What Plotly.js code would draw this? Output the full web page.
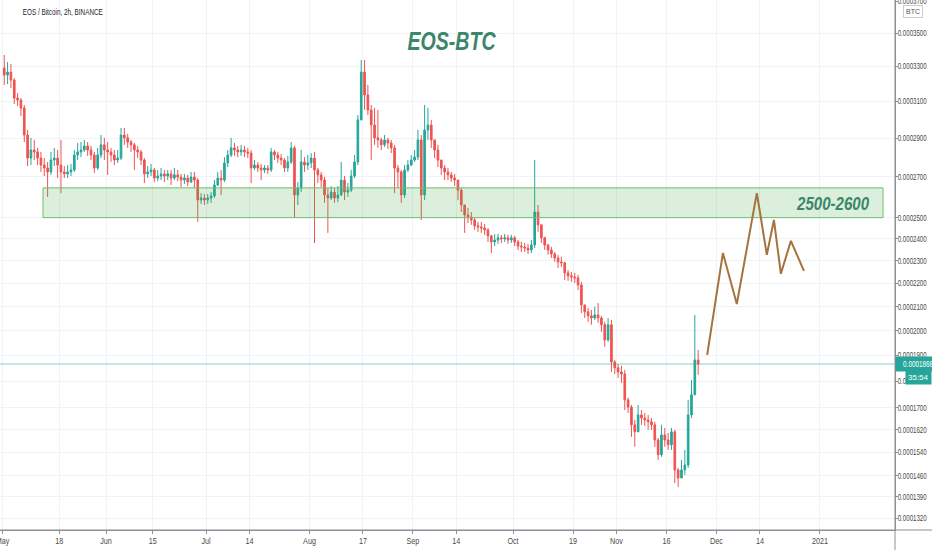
<!DOCTYPE html>
<html>
<head>
<meta charset="utf-8">
<script src="https://cdn.plot.ly/plotly-3.0.1.min.js"></script>
<style>
html,body{margin:0;padding:0;background:#fff;}
#chart{width:932px;height:550px;}
</style>
</head>
<body>
<div id="chart"></div>
<script>
// ---------- DATA (prices in satoshi, 1 sat = 0.00000001 BTC) ----------
const firstDay = '2020-05-01';
const firstOpen = 32910;
const close = [
32500,32670,32210,31190,31080,30640,29170,27960,28380,28280,
27960,27600,27450,27250,27860,27960,27600,27250,27150,27250,
27350,28120,28280,28380,28590,28380,28120,27450,28120,28650,
28380,28280,28120,27860,27960,29170,29020,28800,28650,28380,
28280,27860,27150,27250,27350,26940,27040,27150,27040,27150,
26940,27100,26990,26840,26940,26740,26990,26840,25850,25950,
25850,25950,26050,26590,26940,26840,27710,28120,28490,28380,
28280,28380,28280,28220,27450,27600,27450,27350,27450,27350,
28280,28120,27960,27860,27450,27760,28490,26100,26440,27760,
27600,27710,27960,27350,27100,26840,26100,25950,26240,25950,
26100,26840,26240,26340,27040,27760,29980,32670,31360,30530,
29710,29020,28910,28650,28910,28750,28490,27450,27250,26100,
27350,27600,27860,28010,28910,26100,29440,29710,28910,28380,
27860,27450,27250,27100,26940,26840,26340,25610,25130,25030,
24890,24610,24560,24510,24420,24140,23860,23950,24050,24000,
24050,23950,24050,23860,23670,23630,23580,23490,23720,25270,
24660,24050,23720,23490,23310,23130,22950,22910,22460,22330,
22280,22240,21930,21070,20780,20610,20520,20650,20520,20240,
19620,20240,18740,18510,18350,18270,17290,17020,16370,16120,
16730,16620,16550,16480,16370,15830,15310,16010,15830,15660,
16120,14790,14520,14790,14960,16730,17480,18820,18660];
const high = [
33680,33260,33140,32330,31470,31190,30800,29440,29020,28910,
28490,28280,27960,27760,28280,28490,28380,28910,27550,27600,
27660,28380,28750,28800,28910,28800,28590,28280,28490,29170,
29020,28800,28490,28380,28380,29550,29550,29230,28910,28750,
28590,28380,27960,27550,27660,27450,27350,27450,27350,27350,
27350,27450,27350,27150,27150,27100,27250,27250,26940,26190,
26140,26140,26240,26840,27250,27350,28010,28380,29020,28750,
28590,28650,28590,28490,28380,27860,27760,27660,27600,27600,
28490,28380,28280,28170,27960,28070,28800,28600,26740,28380,
28010,28120,28220,28280,27450,27250,27000,26440,26540,26440,
26540,27760,27040,26690,27350,28120,30250,33380,33380,31930,
30800,30640,30530,29020,29170,29020,28910,28650,27600,27350,
27600,27860,28120,28380,29440,29170,30800,30640,29980,28910,
28650,27860,27600,27450,27250,27150,26840,26440,25610,25470,
25270,24990,24800,24800,24700,24510,24190,24230,24230,24190,
24230,24190,24190,24140,23950,23860,23810,23770,23950,27860,
25610,24660,24100,23770,23630,23400,23270,23180,22950,22590,
22500,22460,22370,22060,21070,20940,20860,20990,21150,20610,
20360,20520,20440,18820,18660,18590,18430,17370,17100,16550,
17100,16910,16800,16730,16620,16480,15900,16370,16260,16080,
16260,16190,14860,15130,15480,17290,18040,20650,19220];
const low = [
31930,31980,31760,30860,30750,30200,28800,27550,27600,27860,
27600,27250,27040,26000,27100,27550,26940,26190,26940,26940,
27040,27250,27860,28010,28280,28070,27860,27200,27350,27960,
27860,27100,27760,27600,27710,27860,28650,28490,28280,27350,
27960,27600,26690,26940,27040,26740,26790,26840,26740,26840,
26590,26840,26790,26490,26640,26540,26690,26440,24800,25660,
25610,25660,25710,25950,26540,26100,26740,27500,28010,28070,
28010,28070,28010,27960,26690,27350,27250,26840,27200,27150,
27250,27860,27710,27600,27250,27250,27650,25030,25610,26240,
27250,27350,27450,23810,26690,26490,25710,24280,25850,25710,
25750,26050,25850,26000,26240,26940,27600,29980,30530,30250,
27860,28650,28490,28380,28540,28430,28220,26190,26440,25710,
25950,27250,27550,27760,27860,24890,25850,28910,28490,27960,
27500,27100,26840,26840,26740,26540,25850,25270,24280,24750,
24660,24420,24330,24280,24190,23860,23350,23670,23770,23810,
23860,23770,23810,23670,23490,23400,23400,23310,23350,23580,
24330,23810,23490,23270,23130,22950,22680,22730,22150,22110,
22060,22020,21710,20730,20520,20360,20240,20440,20320,19950,
19340,19540,18350,18270,18120,17930,16910,16800,15940,15590,
16120,16370,16330,16190,16190,15590,15130,15240,15590,15480,
15480,14350,14220,14520,14620,14860,16620,17480,18240];

// projection drawn by the author
const projDates = ['2020-11-28 05:00','2020-12-02 22:00','2020-12-07 02:00','2020-12-13 02:00',
  '2020-12-16 02:00','2020-12-18 05:00','2020-12-20 07:00','2020-12-23 07:00','2020-12-27 05:00'];
const projSat = [19020,23350,21110,26190,23270,24890,22420,23910,22550];

// support/resistance zone
const zoneStart = '2020-05-13 03:00';
const zoneEnd = '2021-01-19 22:00';
const zoneLowSat = 25000;
const zoneHighSat = 26450;
const zoneLabel = '2500-2600';

const lastPriceSat = 18660;
const lastPriceLabel = '0.0001866';
const countdownLabel = '35:54';

const xTickDates = ['2020-05-01','2020-05-18','2020-06-01','2020-06-15','2020-07-01','2020-07-14',
  '2020-08-01','2020-08-17','2020-09-01','2020-09-14','2020-10-01','2020-10-19','2020-11-01',
  '2020-11-16','2020-12-01','2020-12-14','2021-01-01'];
const xTickLabels = ['May','18','Jun','15','Jul','14','Aug','17','Sep','14','Oct','19','Nov','16','Dec','14','2021'];

const yTickSat = [37000,35000,33000,31000,29000,27000,25000,24000,23000,22000,21000,20000,19000,18000,17000,16200,15400,14600,13900,13200];
const yTickLabels = ['0.0003700','0.0003500','0.0003300','0.0003100','0.0002900','0.0002700','0.0002500','0.0002400',
  '0.0002300','0.0002200','0.0002100','0.0002000','0.0001900','0.0001800','0.0001700','0.0001620','0.0001540',
  '0.0001460','0.0001390','0.0001320'];

const titleText = 'EOS-BTC';
const symbolText = 'EOS / Bitcoin, 2h, BINANCE';
const currencyText = 'BTC';

// ---------- SCALE (TradingView-like compressed log price scale) ----------
const SCALE_SHIFT = 10500;             // sat
const toAxis = s => s + SCALE_SHIFT;
const yRangeAxis = [23329, 47564];     // axis units at bottom / top of pane
const xRange = ['2020-04-30 05:25', '2021-01-23 12:00'];

// ---------- BUILD ----------
const dates = close.map((_, i) => {
  const d = new Date(Date.UTC(2020, 4, 1 + i, 12));
  return d.toISOString().slice(0, 16).replace('T', ' ');
});
const open = [firstOpen].concat(close.slice(0, -1));

const FONT = "'Liberation Sans', Arial, sans-serif";
const TEXTGREEN = '#3b8668';

const traces = [
  {
    type: 'scatter', mode: 'lines',
    x: [zoneStart, zoneEnd, zoneEnd, zoneStart, zoneStart],
    y: [zoneLowSat, zoneLowSat, zoneHighSat, zoneHighSat, zoneLowSat].map(toAxis),
    fill: 'toself', fillcolor: 'rgba(76,175,80,0.2)',
    line: { color: '#6dbf6b', width: 1 }, hoverinfo: 'skip'
  },
  {
    type: 'scatter', mode: 'lines',
    x: xRange, y: [lastPriceSat, lastPriceSat].map(toAxis),
    line: { color: 'rgba(38,166,154,0.55)', width: 1 }, hoverinfo: 'skip'
  },
  {
    type: 'candlestick',
    x: dates,
    open: open.map(toAxis), high: high.map(toAxis), low: low.map(toAxis), close: close.map(toAxis),
    increasing: { line: { color: '#26a69a', width: 1 }, fillcolor: '#26a69a' },
    decreasing: { line: { color: '#ef5350', width: 1 }, fillcolor: '#ef5350' },
    whiskerwidth: 0, hoverinfo: 'skip'
  },
  {
    type: 'scatter', mode: 'lines',
    x: projDates, y: projSat.map(toAxis),
    line: { color: '#a5733d', width: 2 }, hoverinfo: 'skip'
  }
];

const layout = {
  width: 932, height: 550,
  margin: { l: 0, r: 37, t: 0, b: 20 },
  paper_bgcolor: '#ffffff', plot_bgcolor: '#ffffff',
  showlegend: false,
  font: { family: FONT, color: '#4a4a4a', size: 9 },
  xaxis: {
    type: 'date', range: xRange, rangeslider: { visible: false },
    tickmode: 'array', tickvals: xTickDates, ticktext: xTickLabels,
    showgrid: true, gridcolor: '#f0f2f6', gridwidth: 1,
    showline: true, linecolor: '#8c8f96', linewidth: 1,
    ticks: 'outside', ticklen: 3, tickcolor: '#8c8f96',
    ticklabeloverflow: 'allow',
    tickfont: { family: FONT, size: 8.5, color: '#4a4a4a' },
    zeroline: false, fixedrange: true
  },
  yaxis: {
    type: 'log', side: 'right',
    range: [Math.log10(yRangeAxis[0]), Math.log10(yRangeAxis[1])],
    tickmode: 'array', tickvals: yTickSat.map(toAxis), ticktext: yTickLabels,
    showgrid: true, gridcolor: '#f0f2f6', gridwidth: 1,
    showline: true, linecolor: '#8c8f96', linewidth: 1,
    ticks: 'outside', ticklen: 2, tickcolor: '#8c8f96',
    ticklabeloverflow: 'allow',
    tickfont: { family: FONT, size: 8.5, color: '#4a4a4a' },
    zeroline: false, fixedrange: true
  },
  shapes: [
    { type: 'line', xref: 'paper', yref: 'paper', x0: 0, x1: 1.05, y0: 0, y1: 0,
      line: { color: '#8c8f96', width: 1 } },
    { type: 'line', xref: 'paper', yref: 'paper', x0: 1, x1: 1, y0: -0.05, y1: 1,
      line: { color: '#8c8f96', width: 1 } }
  ],
  annotations: [
    { xref: 'paper', yref: 'paper', x: 0.004, y: 0.978, xanchor: 'left', yanchor: 'middle',
      text: symbolText, showarrow: false, font: { family: FONT, size: 9, color: '#1e222d' } },
    { xref: 'paper', yref: 'paper', x: 0.505, y: 0.922, xanchor: 'center', yanchor: 'middle',
      text: titleText, showarrow: false,
      font: { family: FONT, size: 26, color: TEXTGREEN, weight: 'bold', style: 'italic' } },
    { xref: 'paper', yref: 'paper', x: 0.93, y: 0.615, xanchor: 'center', yanchor: 'middle',
      text: zoneLabel, showarrow: false,
      font: { family: FONT, size: 18, color: TEXTGREEN, weight: 'bold', style: 'italic' } },
    { xref: 'paper', yref: 'y', x: 1, y: Math.log10(toAxis(lastPriceSat)), xanchor: 'left', yanchor: 'middle',
      text: lastPriceLabel, showarrow: false, bgcolor: '#26a69a', borderpad: 2,
      font: { family: FONT, size: 8.5, color: '#ffffff' } },
    { xref: 'paper', yref: 'paper', x: 1, xshift: 37, y: 0.288, xanchor: 'right', yanchor: 'middle',
      text: countdownLabel, showarrow: false, bgcolor: '#26a69a', borderpad: 2,
      font: { family: FONT, size: 8, color: '#ffffff' } },
    { xref: 'paper', yref: 'paper', x: 1.0201, y: 0.979, xanchor: 'center', yanchor: 'middle',
      text: currencyText, showarrow: false, bgcolor: '#ffffff', bordercolor: '#c9ccd4', borderwidth: 1, borderpad: 2,
      font: { family: FONT, size: 7, color: '#555' } }
  ]
};

// horizontal condensing of texts (the reference uses a narrow typeface)
function squeeze(el, width) {
  el.setAttribute('textLength', width.toFixed(1));
  el.setAttribute('lengthAdjust', 'spacingAndGlyphs');
}
const annotationWidths = [80, 88, 72, 30, null, null];

Plotly.newPlot('chart', traces, layout, { displayModeBar: false, staticPlot: true }).then(gd => {
  gd.querySelectorAll('.ytick text').forEach(t => { squeeze(t, 29); t.setAttribute('dx', '-2'); });
  gd.querySelectorAll('.xtick text').forEach(t => squeeze(t, t.getComputedTextLength() * 0.85));
  gd.querySelectorAll('g.annotation').forEach(g => {
    const i = +g.getAttribute('data-index');
    const w = annotationWidths[i];
    const t = g.querySelector('text.annotation-text');
    if (w && t) squeeze(t, w);
  });
});
</script>
</body>
</html>
